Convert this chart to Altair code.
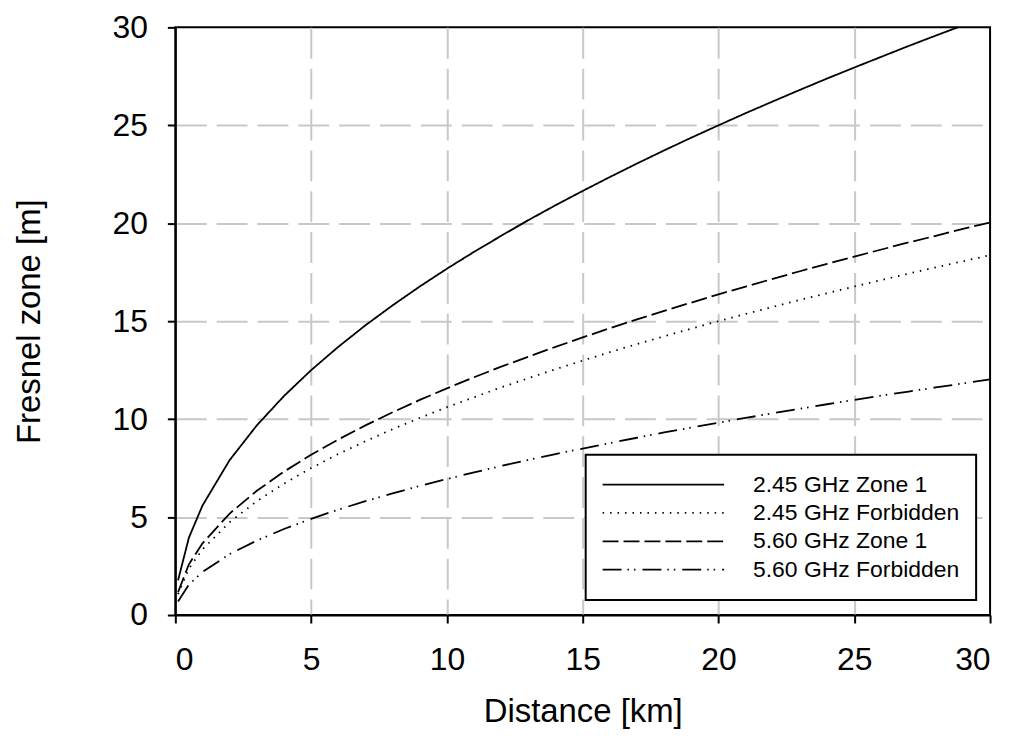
import altair as alt
import pandas as pd

distance_km = [0.1, 0.5, 1, 2, 3, 4, 5, 6, 7, 8, 9, 10, 11, 12, 13, 14, 15,
               16, 17, 18, 19, 20, 21, 22, 23, 24, 25, 26, 27, 28, 29, 30]

zone1_245 = [1.77, 3.95, 5.59, 7.91, 9.68, 11.18, 12.50, 13.69, 14.79, 15.81,
             16.77, 17.68, 18.54, 19.36, 20.16, 20.92, 21.65, 22.36, 23.05,
             23.72, 24.37, 25.00, 25.62, 26.22, 26.81, 27.39, 27.95, 28.50,
             29.05, 29.58, 30.10, 30.62]
forbidden_245 = [1.06, 2.37, 3.35, 4.74, 5.81, 6.71, 7.50, 8.22, 8.87, 9.49,
                 10.06, 10.61, 11.12, 11.62, 12.09, 12.55, 12.99, 13.42, 13.83,
                 14.23, 14.62, 15.00, 15.37, 15.73, 16.09, 16.43, 16.77, 17.10,
                 17.43, 17.75, 18.06, 18.37]
zone1_560 = [1.16, 2.59, 3.66, 5.18, 6.34, 7.32, 8.18, 8.96, 9.68, 10.35,
             10.98, 11.57, 12.14, 12.68, 13.19, 13.69, 14.17, 14.64, 15.09,
             15.53, 15.95, 16.37, 16.77, 17.16, 17.55, 17.93, 18.30, 18.66,
             19.02, 19.36, 19.71, 20.04]
forbidden_560 = [0.69, 1.55, 2.20, 3.11, 3.80, 4.39, 4.91, 5.38, 5.81, 6.21,
                 6.59, 6.94, 7.28, 7.61, 7.92, 8.22, 8.50, 8.78, 9.05, 9.32,
                 9.57, 9.82, 10.06, 10.30, 10.53, 10.76, 10.98, 11.20, 11.41,
                 11.62, 11.82, 12.03]

series_names = ["2.45 GHz Zone 1", "2.45 GHz Forbidden",
                "5.60 GHz Zone 1", "5.60 GHz Forbidden"]
series_values = [zone1_245, forbidden_245, zone1_560, forbidden_560]

axis_ticks = [0, 5, 10, 15, 20, 25, 30]

rows = []
for name, vals in zip(series_names, series_values):
    for d, v in zip(distance_km, vals):
        rows.append({"distance": d, "fresnel": v, "series": name})
df = pd.DataFrame(rows)

FONT = "Liberation Sans"
grid_opacity = {"condition": {"test": "datum.value === 0 || datum.value === 30",
                              "value": 0}, "value": 1}

chart = alt.Chart(df).mark_line(
    color="black", strokeWidth=1.8, clip=True
).encode(
    x=alt.X("distance:Q",
            scale=alt.Scale(domain=[0, 30], nice=False, zero=True),
            axis=alt.Axis(values=axis_ticks, title="Distance [km]",
                          labelPadding=22, titlePadding=20,
                          titleFontSize=33,
                          gridOpacity=grid_opacity)),
    y=alt.Y("fresnel:Q",
            scale=alt.Scale(domain=[0, 30], nice=False, zero=True),
            axis=alt.Axis(values=axis_ticks, title="Fresnel zone [m]",
                          labelPadding=20, titlePadding=66,
                          titleFontSize=33,
                          gridOpacity=grid_opacity)),
    strokeDash=alt.StrokeDash(
        "series:N",
        sort=series_names,
        scale=alt.Scale(domain=series_names,
                        range=[[1, 0], [1.5, 6], [16, 5],
                               [19, 6, 1.5, 5, 1.5, 7]]),
        legend=alt.Legend(
            title=None, orient="none", legendX=412, legendY=429,
            symbolType="stroke", symbolSize=14884, symbolStrokeWidth=1.8,
            symbolStrokeColor="black", clipHeight=28, rowPadding=0.5,
            padding=16, labelOffset=28, symbolOffset=0,
            labelFontSize=23, labelFont=FONT, labelColor="black",
            labelLimit=400, strokeColor="black", fillColor="white",
        ),
    ),
).properties(
    width=818, height=590,
    autosize=alt.AutoSizeParams(type="none"),
    padding={"left": 168, "top": 18, "right": 18, "bottom": 116},
).configure_view(
    stroke="black", strokeWidth=2
).configure_axis(
    domainColor="black", domainWidth=2,
    tickColor="black", tickWidth=2, tickSize=8,
    labelFont=FONT, labelFontSize=32, labelColor="black",
    titleFont=FONT, titleFontSize=32, titleColor="black",
    titleFontWeight="normal",
    gridColor="#c8c8c8", gridWidth=2, gridDash=[31, 10],
).configure_legend(
    strokeWidth=2
)

chart.save("out.html", embed_options={"renderer": "svg", "actions": False})
